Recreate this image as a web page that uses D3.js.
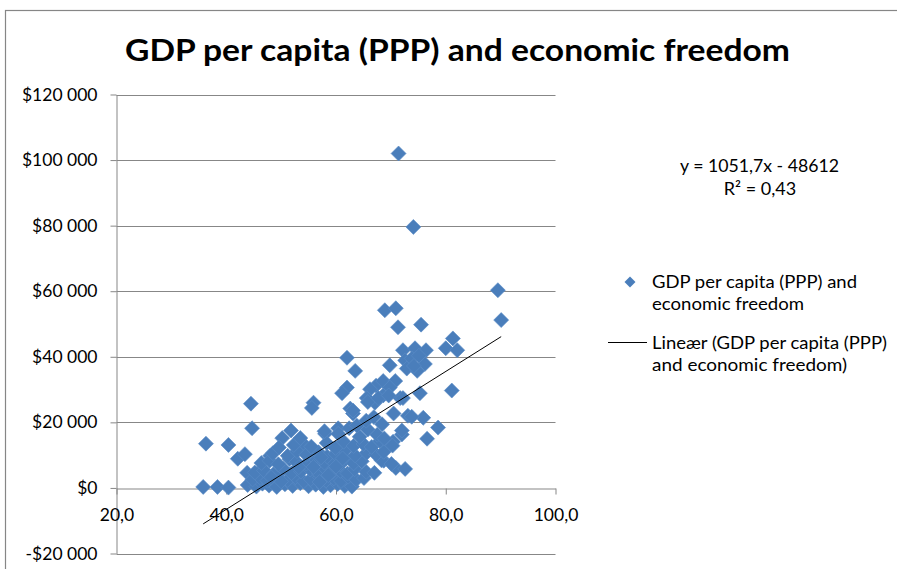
<!DOCTYPE html>
<html>
<head>
<meta charset="utf-8">
<script src="https://cdn.jsdelivr.net/npm/d3@7"></script>
<style>
  html, body { margin: 0; background: #fff; }
  svg { display: block; font-family: Lato, "Open Sans", sans-serif; }
</style>
</head>
<body>
<svg id="chart" width="897" height="569"></svg>
<script>
// Economic freedom index score per country
const freedom = [
  71.4, 74.1, 89.5, 90.1, 68.9, 70.9, 71.3, 75.5, 81.3, 80.0, 82.1, 72.2, 74.4, 76.4, 72.6, 72.9, 76.2, 74.8, 73.8, 75.1,
  74.2, 62.0, 63.5, 69.8, 81.1, 75.3, 71.7, 67.3, 68.6, 70.8, 69.8, 62.0, 61.1, 66.2, 65.6, 67.1, 68.6, 72.2, 73.1, 63.1,
  75.9, 73.8, 78.6, 76.6, 70.9, 72.6, 72.0, 70.4, 69.5, 68.7,
  35.8, 38.4, 40.4, 36.3, 40.4, 42.1, 43.4, 43.8, 44.5, 44.7, 48.0, 46.5, 50.2, 51.8, 54.0, 55.9, 55.6, 58.0, 60.4, 54.4,
  43.9, 45.5, 46.6, 47.8, 49.2, 50.7, 52.1, 53.5, 55.0, 56.3, 57.7, 59.0, 60.3, 61.6, 62.9,
  44.8, 46.2, 47.5, 49.6, 51.2, 52.6, 54.1, 55.4, 57.1, 58.2, 59.6, 60.9, 62.2, 63.7, 65.1,
  45.2, 46.9, 48.6, 50.4, 51.9, 53.6, 55.3, 56.9, 58.0, 59.3, 60.8, 62.1, 63.4, 65.5, 67.0,
  46.4, 47.9, 49.5, 51.5, 52.8, 54.6, 56.4, 57.9, 59.3, 60.7, 61.8, 63.2, 64.7, 68.3, 70.1,
  48.5, 51.2, 52.9, 54.6, 56.8, 58.4, 59.9, 61.6, 63.5, 65.6, 67.3, 68.7,
  49.6, 52.3, 55.5, 58.3, 59.9, 61.4, 63.2, 65.0, 66.5, 68.0, 70.3,
  53.5, 57.9, 60.4, 62.4, 64.3, 65.8, 67.5, 68.8, 72.0,
  63.8, 65.5, 66.9, 68.4, 70.5,
  62.6, 63.1, 65.8, 67.7, 69.6,
  57.0, 58.6, 55.9, 57.3, 60.0, 61.2, 53.2, 50.0, 48.2
];

// GDP per capita (PPP), US dollars, same order as freedom
const gdp = [
  102000, 79600, 60300, 51200, 54200, 54800, 49000, 49800, 45600, 42600, 42000, 42000, 42600, 42000, 38900, 36400, 37800, 35700, 39500, 40300,
  37200, 39700, 35700, 37400, 29700, 28900, 27400, 31200, 32600, 32600, 30600, 30600, 28900, 30100, 27400, 26000, 28200, 27400, 22000, 22700,
  21400, 21700, 18400, 15000, 6100, 5800, 16300, 14100, 12600, 8300,
  300, 300, 100, 13500, 13100, 8900, 10300, 4600, 25700, 18200, 9800, 5800, 15200, 17500, 12300, 26000, 24400, 16500, 18200, 12900,
  900, 400, 1300, 700, 300, 1100, 600, 1400, 500, 1000, 300, 800, 1200, 600, 400,
  2600, 3100, 2200, 2900, 2400, 3300, 2000, 2700, 3200, 2300, 2900, 2100, 3400, 2500, 3000,
  4700, 5300, 4200, 5800, 4500, 5000, 5600, 4300, 5900, 4800, 5200, 4400, 5700, 4900, 4600,
  7600, 8300, 7200, 8800, 7900, 7400, 8600, 7700, 8200, 7100, 8900, 7500, 8100, 8400, 7300,
  10600, 9800, 11200, 10100, 10900, 9600, 10400, 11400, 9900, 10700, 10200, 11000,
  12300, 13100, 12600, 13700, 12200, 14100, 12800, 13400, 12500, 14300, 12900,
  15200, 17300, 16500, 18200, 15600, 17800, 16200, 15100, 17500,
  19000, 20500, 21600, 19400, 22700,
  24200, 23600, 26200, 27400, 28200,
  1800, 3900, 6400, 9300, 6500, 9000, 6300, 2000, 3200
];

const xTicks = [20, 40, 60, 80, 100];
const yTicks = [-20000, 0, 20000, 40000, 60000, 80000, 100000, 120000];

// Linear trend line as reported for the series
const trendSlope = 1051.7;
const trendIntercept = -48612;
const trendR2 = 0.43;

const titleText = "GDP per capita (PPP) and economic freedom";
const seriesName = ["GDP per capita (PPP) and", "economic freedom"];
const trendName = ["Lineær (GDP per capita (PPP)", "and economic freedom)"];
const equationLines = ["y = 1051,7x - 48612", "R\u00b2 = 0,43"];

const points = freedom.map((f, i) => ({ x: f, y: gdp[i] }));

const svg = d3.select("#chart");
const blue = "#4a7ebb";
const gridColor = "#878787";

const x = d3.scaleLinear().domain([20, 100]).range([116.5, 555.5]);
const y = d3.scaleLinear().domain([-20000, 120000]).range([553.5, 94.5]);

const moneyLocale = d3.formatLocale({ decimal: ",", thousands: " ", grouping: [3], currency: ["$", ""] });
const numFmt = moneyLocale.format(",.0f");
const fmtMoney = v => (v < 0 ? "-$" : "$") + numFmt(Math.abs(v));
const fmtX = d3.formatLocale({ decimal: ",", thousands: ".", grouping: [3], currency: ["", ""] }).format(".1f");

// Chart area frame
svg.append("rect")
  .attr("x", 5.5).attr("y", 10.5)
  .attr("width", 1000).attr("height", 1000)
  .attr("fill", "#fff")
  .attr("stroke", "#868686").attr("stroke-width", 1.2);

// Title
svg.append("text")
  .attr("x", 457.5).attr("y", 61)
  .attr("text-anchor", "middle")
  .attr("font-size", 30).attr("font-weight", 700)
  .attr("fill", "#000")
  .attr("textLength", 665).attr("lengthAdjust", "spacingAndGlyphs")
  .text(titleText);

// Horizontal gridlines
svg.append("g")
  .selectAll("line")
  .data(yTicks.filter(v => v !== 0))
  .join("line")
  .attr("x1", x(20)).attr("x2", x(100))
  .attr("y1", d => Math.round(y(d)) + 0.5).attr("y2", d => Math.round(y(d)) + 0.5)
  .attr("stroke", gridColor).attr("stroke-width", 1);

// Y axis
const yAxis = svg.append("g")
  .attr("transform", `translate(${x(20)},0)`)
  .call(d3.axisLeft(y).tickValues(yTicks).tickFormat(fmtMoney).tickSize(6).tickSizeOuter(0).tickPadding(13));
yAxis.selectAll("line").attr("stroke", gridColor);
yAxis.select(".domain").attr("stroke", gridColor);
yAxis.selectAll("text").attr("font-size", 17.5).attr("fill", "#000").attr("font-family", "Lato, 'Open Sans', sans-serif");

// X axis drawn along y = 0
const xAxis = svg.append("g")
  .attr("transform", `translate(0,${Math.round(y(0)) + 0.5})`)
  .call(d3.axisBottom(x).tickValues(xTicks).tickFormat(fmtX).tickSize(6).tickSizeOuter(0).tickPadding(14));
xAxis.selectAll("line").attr("stroke", gridColor);
xAxis.select(".domain").attr("stroke", gridColor);
xAxis.selectAll("text").attr("font-size", 17.5).attr("fill", "#000").attr("font-family", "Lato, 'Open Sans', sans-serif");

// Diamond markers
const diamond = d3.symbol().type(d3.symbolSquare).size(112);
svg.append("g")
  .selectAll("path")
  .data(points)
  .join("path")
  .attr("d", diamond)
  .attr("transform", d => `translate(${x(d.x)},${y(d.y)}) rotate(45)`)
  .attr("fill", blue)
  .attr("stroke", "#5b8cc6").attr("stroke-width", 0.6);

// Trend line over the observed range of freedom scores
const [xMin, xMax] = d3.extent(freedom);
const trend = [xMin, xMax].map(v => ({ x: v, y: trendSlope * v + trendIntercept }));
svg.append("path")
  .datum(trend)
  .attr("d", d3.line().x(d => x(d.x)).y(d => y(d.y)))
  .attr("fill", "none")
  .attr("stroke", "#000").attr("stroke-width", 1);

// Regression equation label
const eq = svg.append("g").attr("font-size", 18).attr("fill", "#000").attr("text-anchor", "middle");
eq.append("text").attr("x", 759.5).attr("y", 172).attr("textLength", 159).attr("lengthAdjust", "spacingAndGlyphs").text(equationLines[0]);
eq.append("text").attr("x", 760).attr("y", 195).text(equationLines[1]);

// Legend
const legend = svg.append("g").attr("font-size", 18).attr("fill", "#000");
legend.append("path")
  .attr("d", d3.symbol().type(d3.symbolSquare).size(60))
  .attr("transform", "translate(630,282) rotate(45)")
  .attr("fill", blue);
legend.append("text").attr("x", 652).attr("y", 288).attr("textLength", 205).attr("lengthAdjust", "spacingAndGlyphs").text(seriesName[0]);
legend.append("text").attr("x", 652).attr("y", 310).attr("textLength", 152).attr("lengthAdjust", "spacingAndGlyphs").text(seriesName[1]);
legend.append("line")
  .attr("x1", 608).attr("x2", 647).attr("y1", 342.5).attr("y2", 342.5)
  .attr("stroke", "#000").attr("stroke-width", 1);
legend.append("text").attr("x", 652).attr("y", 349).attr("textLength", 235).attr("lengthAdjust", "spacingAndGlyphs").text(trendName[0]);
legend.append("text").attr("x", 652).attr("y", 371).attr("textLength", 195).attr("lengthAdjust", "spacingAndGlyphs").text(trendName[1]);
</script>
</body>
</html>
